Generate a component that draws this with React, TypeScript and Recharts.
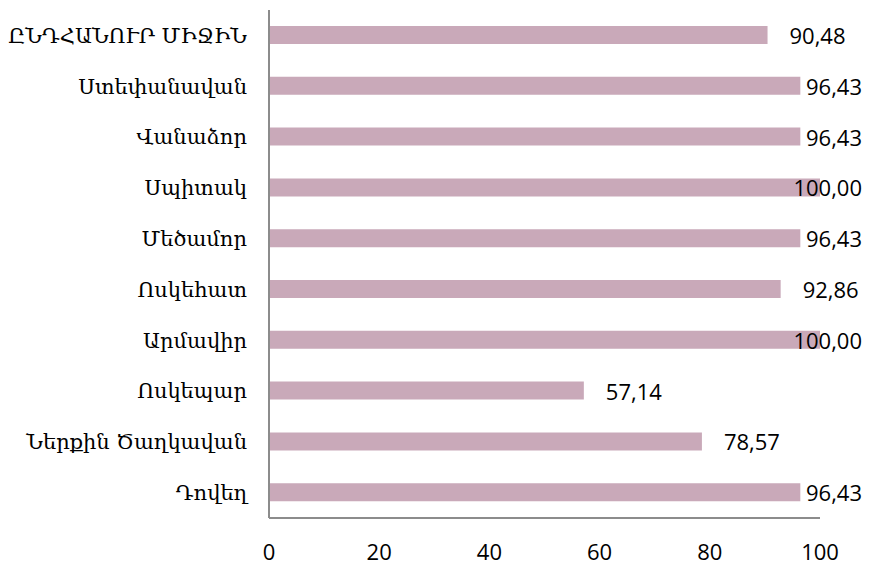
import React from 'react';
import { BarChart, Bar, XAxis, YAxis, LabelList } from 'recharts';

const categories = [
  'ԸՆԴՀԱՆՈՒՐ ՄԻՋԻՆ',
  'Ստեփանավան',
  'Վանաձոր',
  'Սպիտակ',
  'Մեծամոր',
  'Ոսկեհատ',
  'Արմավիր',
  'Ոսկեպար',
  'Ներքին Ծաղկավան',
  'Դովեղ',
];
const values = [90.48, 96.43, 96.43, 100.0, 96.43, 92.86, 100.0, 57.14, 78.57, 96.43];
const xTicks = [0, 20, 40, 60, 80, 100];

const data = categories.map((name, i) => ({ name, value: values[i] }));

const BAR_COLOR = '#C9A9B9';
const AXIS_COLOR = '#8C8C8C';
const NUM_FONT = '"Open Sans", "Liberation Sans", sans-serif';
const CAT_FONT = '"DejaVu Serif", "Liberation Serif", serif';

const fmt = (v: number) => v.toFixed(2).replace('.', ',');

// value label: sits right of bar, pushed left when it would run past the chart edge
const ValueLabel = (props: any) => {
  const { x, y, width, height, value } = props;
  const text = fmt(Number(value));
  const w = text.length * 12.2;
  const right = Math.min(x + width + 17 + w, 862);
  return (
    <text
      x={right}
      y={y + height / 2}
      textAnchor="end"
      dominantBaseline="central"
      fontFamily={NUM_FONT}
      fontSize={22}
      fill="#000"
    >
      {text}
    </text>
  );
};

const App: React.FC = () => {
  return (
    <div style={{ position: 'absolute', left: 0, top: 0, background: '#fff' }}>
      <BarChart
        width={869}
        height={565}
        data={data}
        layout="vertical"
        margin={{ top: 10, right: 49, bottom: 0, left: 0 }}
      >
        <XAxis
          type="number"
          domain={[0, 100]}
          ticks={xTicks}
          tickLine={false}
          tickSize={0}
          tickMargin={26}
          height={47}
          stroke={AXIS_COLOR}
          strokeWidth={2}
          tick={{ fill: '#000', fontSize: 22, fontFamily: NUM_FONT }}
        />
        <YAxis
          type="category"
          dataKey="name"
          width={269}
          tickLine={false}
          tickSize={0}
          tickMargin={22}
          stroke={AXIS_COLOR}
          strokeWidth={2}
          interval={0}
          tick={{ fill: '#000', fontSize: 21, fontFamily: CAT_FONT }}
        />
        <Bar dataKey="value" fill={BAR_COLOR} barSize={18} isAnimationActive={false}>
          <LabelList dataKey="value" content={ValueLabel} />
        </Bar>
      </BarChart>
    </div>
  );
};

export default App;
